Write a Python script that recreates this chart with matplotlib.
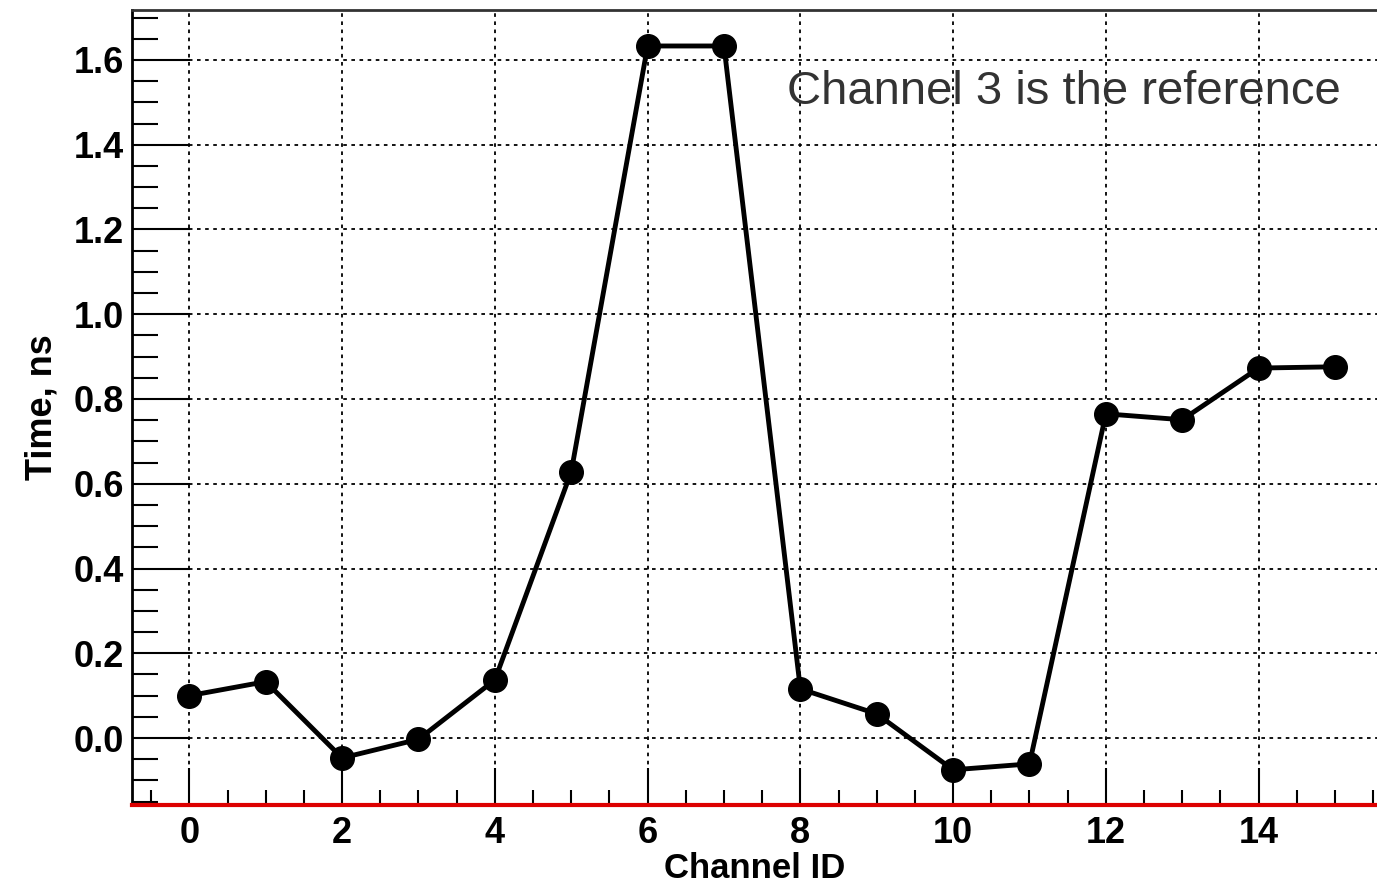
import numpy as np
import matplotlib.pyplot as plt
from matplotlib.ticker import MultipleLocator

# Time offset per channel (channel 3 is the reference)
channel_ids = [0, 1, 2, 3, 4, 5, 6, 7, 8, 9, 10, 11, 12, 13, 14, 15]
time_ns = [0.10, 0.133, -0.047, -0.003, 0.137, 0.628, 1.633, 1.633,
           0.116, 0.057, -0.075, -0.061, 0.765, 0.751, 0.873, 0.876]

plt.rcParams['font.family'] = ['Liberation Sans', 'DejaVu Sans']

fig = plt.figure(figsize=(13.77, 8.89), dpi=100)
ax = fig.add_axes([0.0959, 0.0945, 0.9041, 0.8943])

ax.plot(channel_ids, time_ns, color='black', lw=3.5, marker='o', ms=17,
        zorder=5, clip_on=False)

ax.set_xlim(-0.75, 15.55)
ax.set_ylim(-0.158, 1.718)

ax.xaxis.set_major_locator(MultipleLocator(2))
ax.xaxis.set_minor_locator(MultipleLocator(0.5))
ax.yaxis.set_major_locator(MultipleLocator(0.2))
ax.yaxis.set_minor_locator(MultipleLocator(0.05))
ax.yaxis.set_major_formatter(plt.FuncFormatter(lambda v, p: f"{v:.1f}"))

ax.tick_params(which='both', direction='in', top=False, right=False,
               width=1.5, colors='black')
ax.tick_params(axis='y', which='major', length=42, pad=6)
ax.tick_params(axis='y', which='minor', length=19)
ax.tick_params(axis='x', which='major', length=27, pad=8)
ax.tick_params(axis='x', which='minor', length=11)

for lab in ax.get_xticklabels() + ax.get_yticklabels():
    lab.set_fontsize(26)
    lab.set_fontweight('bold')

ax.grid(True, which='major', color='black', linestyle=(0, (2, 2.5)), lw=1.3)

ax.spines['right'].set_visible(False)
ax.spines['left'].set_linewidth(2)
ax.spines['top'].set_linewidth(2)
ax.spines['top'].set_color('#333333')
ax.spines['bottom'].set_color('#dd0000')
ax.spines['bottom'].set_linewidth(3)

ax.set_xlabel('Channel ID', fontsize=25, fontweight='bold', labelpad=1)
ax.set_ylabel('Time, ns', fontsize=26, fontweight='bold', labelpad=10)

ax.text(0.526, 0.897, 'Channel 3 is the reference', transform=ax.transAxes,
        fontsize=34, color='#333333', ha='left', va='center')

fig.savefig('out.png', dpi=100)
